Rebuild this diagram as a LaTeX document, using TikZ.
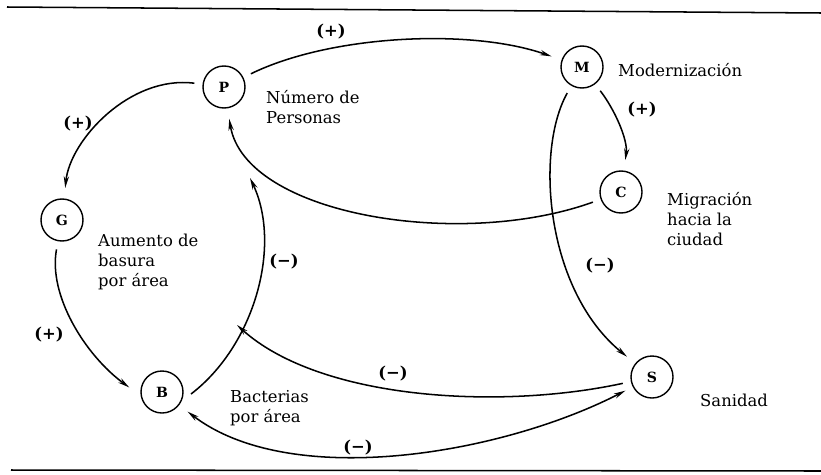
\documentclass[tikz,border=0pt]{standalone}
\usepackage{fontspec}
\setmainfont{DejaVu Serif}
\usepackage{tikz}
\usetikzlibrary{arrows.meta}

\begin{document}
\begin{tikzpicture}[x=0.03cm,y=-0.03cm,font=\fontsize{14}{17}\selectfont,
  >={Stealth[length=10pt,width=4.5pt]},
  var/.style={circle,draw,line width=1.2pt,minimum size=1.26cm,inner sep=0pt,font=\fontsize{12}{12}\selectfont\bfseries},
  lbl/.style={anchor=west,align=left,inner sep=0pt},
  sgn/.style={inner sep=0pt,font=\fontsize{14}{14}\selectfont\bfseries},
  arr/.style={->,line width=1.3pt,shorten >=9pt,shorten <=7pt}]
  \useasboundingbox (0,0) rectangle (821,474);
  % page rules
  \draw[line width=1.3pt] (7,7) -- (821,13);
  \draw[line width=1.3pt] (11,470) -- (821,471);
  % variables
  \node[var] (P) at (224,87) {P};
  \node[var] (M) at (582,67) {M};
  \node[var] (C) at (621,192) {C};
  \node[var] (G) at (62,220) {G};
  \node[var] (B) at (162,392) {B};
  \node[var] (S) at (652,377) {S};
  \node[lbl] (Ptxt) at (266,107) {Número de\\Personas};
  \node[lbl] (Mtxt) at (618,70) {Modernización};
  \node[lbl] (Ctxt) at (667,219) {Migración\\hacia la\\ciudad};
  \node[lbl] (Gtxt) at (98,262) {Aumento de\\basura\\por área};
  \node[lbl] (Btxt) at (230,408) {Bacterias\\por área};
  \node[lbl] (Stxt) at (700,400) {Sanidad};
  % loose arrow ends
  \coordinate (Pend) at (250,178);
  \coordinate (Gend) at (237,325);
  % links
  \draw[arr] (P) .. controls (330,35) and (470,28) .. (M);
  \draw[arr] (P) .. controls (130,75) and (70,140) .. (G);
  \draw[arr] (M) .. controls (615,110) and (628,140) .. (C);
  \draw[arr] (C) .. controls (460,250) and (245,215) .. (P);
  \draw[arr] (M) .. controls (535,150) and (545,290) .. (S);
  \draw[arr,shorten >=12pt] (G) .. controls (48,295) and (85,355) .. (B.190);
  \draw[arr,shorten >=0pt,shorten <=10pt] (B.-25) .. controls (255,345) and (282,245) .. (Pend);
  \draw[arr,shorten >=0pt] (S) .. controls (500,410) and (320,400) .. (Gend);
  \draw[arr,<->] (S) .. controls (500,455) and (290,490) .. (B);
  % signs
  \node[sgn] (s1) at (331,32) {(+)};
  \node[sgn] (s2) at (78,124) {(+)};
  \node[sgn] (s3) at (642,110) {(+)};
  \node[sgn] (s4) at (284,262) {(−)};
  \node[sgn] (s5) at (600,266) {(−)};
  \node[sgn] (s6) at (49,335) {(+)};
  \node[sgn] (s7) at (393,374) {(−)};
  \node[sgn] (s8) at (358,448) {(−)};
\end{tikzpicture}
\end{document}
